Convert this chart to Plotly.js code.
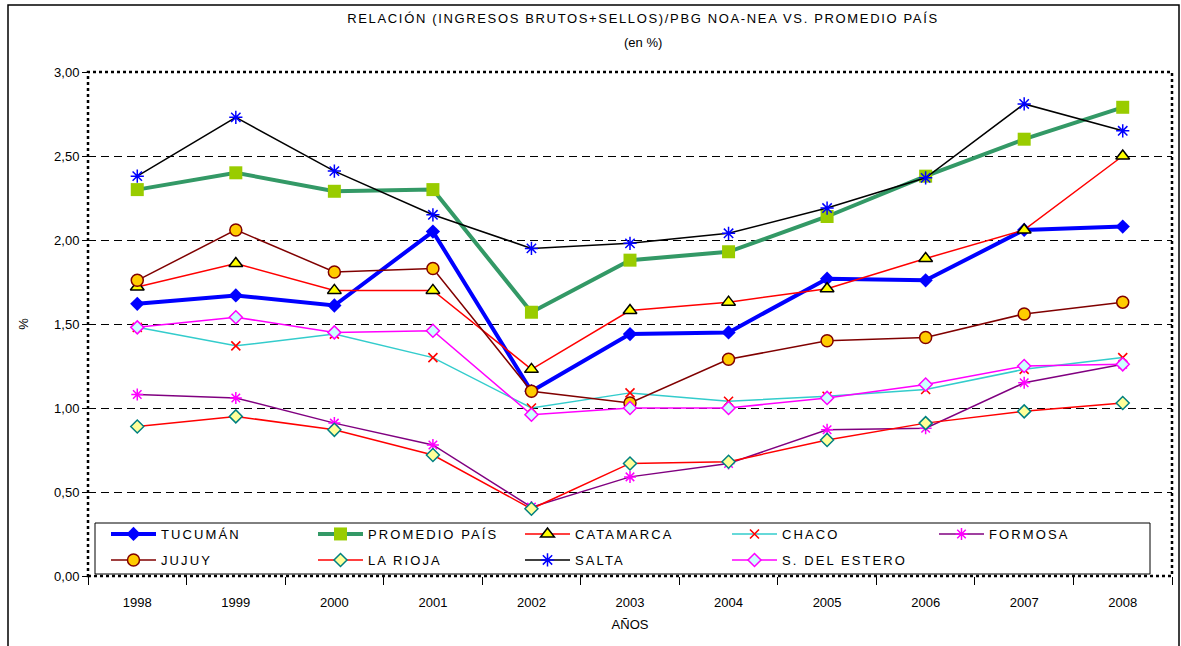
<!DOCTYPE html>
<html>
<head>
<meta charset="utf-8">
<script src="https://cdn.plot.ly/plotly-3.0.1.min.js"></script>
<style>
html,body{margin:0;padding:0;background:#fff;}
#chart{width:1181px;height:646px;}
text.legendtext, .legend text, .legend2 text, .infolayer g[class^="legend"] text {letter-spacing:2.1px !important;}
.gtitle{letter-spacing:1.65px;}
</style>
</head>
<body>
<div id="chart"></div>
<script>
// ---- data ----
const years = ['1998','1999','2000','2001','2002','2003','2004','2005','2006','2007','2008'];
const tucuman     = [1.62, 1.67, 1.61, 2.05, 1.10, 1.44, 1.45, 1.77, 1.76, 2.06, 2.08];
const promedioPais= [2.30, 2.40, 2.29, 2.30, 1.57, 1.88, 1.93, 2.14, 2.38, 2.60, 2.79];
const catamarca   = [1.72, 1.86, 1.70, 1.70, 1.23, 1.58, 1.63, 1.71, 1.89, 2.06, 2.50];
const chaco       = [1.48, 1.37, 1.44, 1.30, 1.00, 1.09, 1.04, 1.07, 1.11, 1.23, 1.30];
const formosa     = [1.08, 1.06, 0.91, 0.78, 0.41, 0.59, 0.67, 0.87, 0.88, 1.15, 1.26];
const jujuy       = [1.76, 2.06, 1.81, 1.83, 1.10, 1.03, 1.29, 1.40, 1.42, 1.56, 1.63];
const laRioja     = [0.89, 0.95, 0.87, 0.72, 0.40, 0.67, 0.68, 0.81, 0.91, 0.98, 1.03];
const salta       = [2.38, 2.73, 2.41, 2.15, 1.95, 1.98, 2.04, 2.19, 2.37, 2.81, 2.65];
const sDelEstero  = [1.48, 1.54, 1.45, 1.46, 0.96, 1.00, 1.00, 1.06, 1.14, 1.25, 1.26];
const seriesNames = ['TUCUMÁN','PROMEDIO PAÍS','CATAMARCA','CHACO','FORMOSA','JUJUY','LA RIOJA','SALTA','S. DEL ESTERO'];
const yTicks = [0, 0.5, 1, 1.5, 2, 2.5, 3];

const FONT = 'Liberation Sans, Arial, sans-serif';

function tr(name, y, lineColor, lineWidth, marker, legendId) {
  return {
    type: 'scatter', mode: 'lines+markers', name: name,
    x: years, y: y, legend: legendId,
    line: {color: lineColor, width: lineWidth},
    marker: marker
  };
}

const traces = [
  tr(seriesNames[0], tucuman, '#0000FF', 4, {symbol:'diamond', size:11, color:'#0000FF', line:{width:0}}, 'legend'),
  tr(seriesNames[1], promedioPais, '#339966', 4, {symbol:'square', size:13, color:'#99CC00', line:{width:0}}, 'legend'),
  tr(seriesNames[2], catamarca, '#FF0000', 1.5, {symbol:'triangle-up', size:12, color:'#FFFF00', line:{color:'#000000', width:1.5}}, 'legend'),
  tr(seriesNames[3], chaco, '#33CCCC', 1.5, {symbol:'x-thin', size:9, color:'#FF0000', line:{color:'#FF0000', width:1.6}}, 'legend'),
  tr(seriesNames[4], formosa, '#800080', 1.5, {symbol:'asterisk', size:10, color:'#FF00FF', line:{color:'#FF00FF', width:1.5}}, 'legend'),
  tr(seriesNames[5], jujuy, '#800000', 1.5, {symbol:'circle', size:12, color:'#FFCC00', line:{color:'#800000', width:1.5}}, 'legend2'),
  tr(seriesNames[6], laRioja, '#FF0000', 1.5, {symbol:'diamond', size:10, color:'#FFFF99', line:{color:'#008080', width:1.5}}, 'legend2'),
  tr(seriesNames[7], salta, '#000000', 1.5, {symbol:'asterisk', size:11, color:'#0000FF', line:{color:'#0000FF', width:1.5}}, 'legend2'),
  tr(seriesNames[8], sDelEstero, '#FF00FF', 1.5, {symbol:'diamond', size:10, color:'#CCFFFF', line:{color:'#FF00FF', width:1.5}}, 'legend2')
];

const L = 88, R = 9, T = 72, B = 70, W = 1181, H = 646;
const pw = W - L - R, ph = H - T - B;
const px = v => (v - L) / pw;
const py = v => (H - B - v) / ph;

function legendCfg(rowY) {
  return {
    orientation: 'h', x: px(106), y: py(rowY), xanchor: 'left', yanchor: 'middle',
    bgcolor: 'rgba(0,0,0,0)', borderwidth: 0,
    entrywidth: 147, entrywidthmode: 'pixels', itemwidth: 45,
    font: {family: FONT, size: 13, color: '#000'}
  };
}

const layout = {
  width: W, height: H,
  margin: {l: L, r: R, t: T, b: B, pad: 0},
  paper_bgcolor: '#FFFFFF', plot_bgcolor: '#FFFFFF',
  font: {family: FONT, size: 13, color: '#000000'},
  separators: ',.',
  showlegend: true,
  title: {text: 'RELACIÓN (INGRESOS BRUTOS+SELLOS)/PBG NOA-NEA VS. PROMEDIO PAÍS', font: {family: FONT, size: 13, color: '#000'}, x: px(643), xref: 'paper', xanchor: 'center', y: 1 - 18/H, yanchor: 'middle'},
  annotations: [
    {text: '(en %)', xref: 'paper', yref: 'paper', x: px(643), y: py(43), showarrow: false, xanchor: 'center', yanchor: 'middle', font: {family: FONT, size: 13, color: '#000'}}
  ],
  xaxis: {
    type: 'category', range: [-0.5, 10.5],
    tickson: 'boundaries', ticks: 'outside', ticklen: 8, tickwidth: 1, tickcolor: '#000',
    showgrid: false, zeroline: false, showline: false,
    tickfont: {family: FONT, size: 13, color: '#000'},
    ticklabelstandoff: 17,
    title: {text: 'AÑOS', font: {family: FONT, size: 13, color: '#000'}, standoff: 10}
  },
  yaxis: {
    range: [0, 3], tickvals: yTicks, tickformat: '.2f',
    ticks: 'outside', ticklen: 5, tickwidth: 1, tickcolor: '#000',
    showgrid: true, gridcolor: '#000000', gridwidth: 1, griddash: '8px,5px',
    zeroline: false, showline: false,
    tickfont: {family: FONT, size: 13, color: '#000'},
    title: {text: '%', font: {family: FONT, size: 13, color: '#000'}, standoff: 22}
  },
  legend: legendCfg(534),
  legend2: legendCfg(560),
  shapes: [
    {type: 'rect', xref: 'paper', yref: 'paper', x0: px(95), x1: px(1150), y0: py(574), y1: py(523), line: {color: '#000', width: 1}, fillcolor: '#FFFFFF', layer: 'above'},
    {type: 'rect', xref: 'paper', yref: 'paper', x0: 0, x1: 1, y0: 0, y1: 1, line: {color: '#000', width: 2.5, dash: 'dot'}, layer: 'above'},
    {type: 'rect', xref: 'paper', yref: 'paper', x0: px(8), x1: px(1179), y0: py(660), y1: py(5), line: {color: '#000', width: 1.5}, layer: 'below'}
  ]
};

Plotly.newPlot('chart', traces, layout, {displayModeBar: false, staticPlot: true});
</script>
</body>
</html>
